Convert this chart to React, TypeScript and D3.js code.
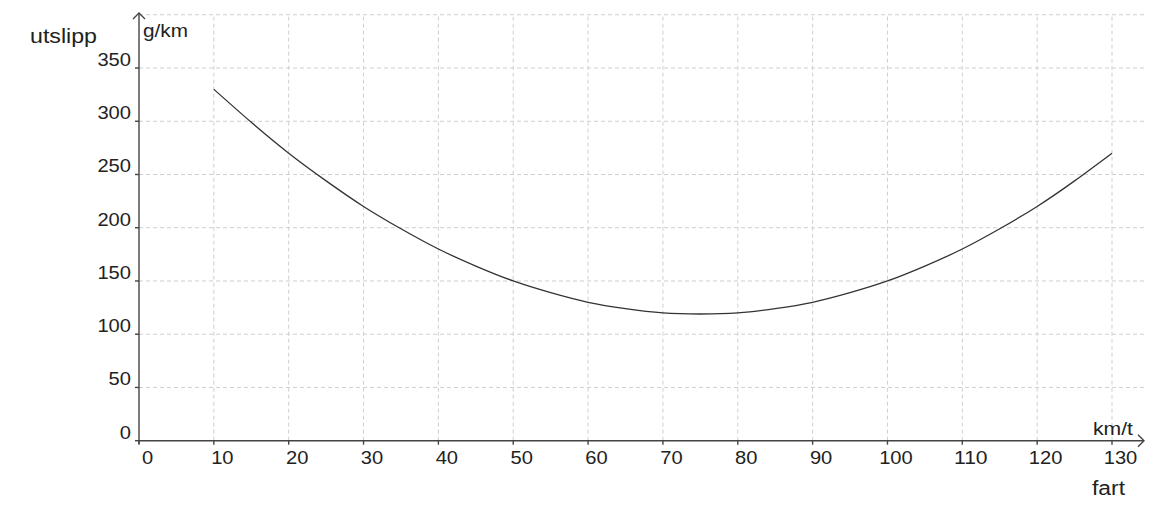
import React from "react";
import * as d3 from "d3";

// speed (km/t) and emission (g/km)
const speeds = [10, 15, 20, 25, 30, 35, 40, 45, 50, 55, 60, 65, 70, 75, 80, 85, 90, 95, 100, 105, 110, 115, 120, 125, 130];
const emissions = [330, 299, 270, 244, 220, 199, 180, 164, 150, 139, 130, 124, 120, 119, 120, 124, 130, 139, 150, 164, 180, 199, 220, 244, 270];

const xTicks = [0, 10, 20, 30, 40, 50, 60, 70, 80, 90, 100, 110, 120, 130];
const yTicks = [0, 50, 100, 150, 200, 250, 300, 350];
const yGrid = [50, 100, 150, 200, 250, 300, 350, 400];

const W = 1156;
const H = 527;
const FONT = "'Liberation Sans', Arial, sans-serif";
const AXIS = "#444";
const GRID = "#cfcfcf";
const DIGIT_W = 11.2; // labels look horizontally stretched

const App: React.FC = () => {
  const x = d3.scaleLinear().domain([0, 130]).range([139, 1112]);
  const y = d3.scaleLinear().domain([0, 350]).range([440.7, 68]);

  const gridRight = 1145;
  const gridTop = y(400);

  const points = speeds.map((s, i) => ({ s, e: emissions[i] }));
  const line = d3
    .line<{ s: number; e: number }>()
    .x((d) => x(d.s))
    .y((d) => y(d.e))
    .curve(d3.curveNatural);

  const x0 = x(0);
  const y0 = y(0);

  return (
    <svg
      width={W}
      height={H}
      style={{ position: "absolute", left: 0, top: 0, background: "#fff" }}
      fontFamily={FONT}
    >
      {/* grid */}
      <g stroke={GRID} strokeWidth={1} strokeDasharray="4,3" fill="none">
        {yGrid.map((v) => (
          <line key={"h" + v} x1={x0} x2={gridRight} y1={y(v)} y2={y(v)} />
        ))}
        {xTicks
          .filter((v) => v > 0)
          .map((v) => (
            <line key={"v" + v} x1={x(v)} x2={x(v)} y1={y0} y2={gridTop} />
          ))}
      </g>

      {/* axes */}
      <g stroke={AXIS} strokeWidth={1.4} fill="none">
        <line x1={x0} x2={1144} y1={y0} y2={y0} />
        <line x1={x0} x2={x0} y1={y0 + 3} y2={13} />
        <path d={`M${1138},${y0 - 6} L1144,${y0} L${1138},${y0 + 6}`} />
        <path d={`M${x0 - 6},19 L${x0},13 L${x0 + 6},19`} />
        {xTicks.map((v) => (
          <line key={"xt" + v} x1={x(v)} x2={x(v)} y1={y0} y2={y0 + 4} />
        ))}
        {yTicks.map((v) => (
          <line key={"yt" + v} x1={x0 - 4} x2={x0} y1={y(v)} y2={y(v)} />
        ))}
      </g>

      {/* tick labels */}
      <g fill="#222" fontSize={19}>
        {xTicks.map((v) => (
          <text
            key={"xl" + v}
            x={x(v) + 8.5}
            y={464}
            textAnchor="middle"
            textLength={String(v).length * DIGIT_W}
            lengthAdjust="spacingAndGlyphs"
          >
            {v}
          </text>
        ))}
        {yTicks.map((v) => (
          <text
            key={"yl" + v}
            x={131}
            y={y(v) - 2}
            textAnchor="end"
            textLength={String(v).length * DIGIT_W}
            lengthAdjust="spacingAndGlyphs"
          >
            {v}
          </text>
        ))}
      </g>

      {/* axis titles */}
      <g fill="#222">
        <text x={30} y={43} fontSize={20} textLength={67} lengthAdjust="spacingAndGlyphs">
          utslipp
        </text>
        <text x={143} y={37} fontSize={19} textLength={45} lengthAdjust="spacingAndGlyphs">
          g/km
        </text>
        <text x={1093} y={435} fontSize={19} textLength={40} lengthAdjust="spacingAndGlyphs">
          km/t
        </text>
        <text x={1092} y={495} fontSize={20} textLength={33} lengthAdjust="spacingAndGlyphs">
          fart
        </text>
      </g>

      {/* curve */}
      <path d={line(points) ?? ""} fill="none" stroke="#333" strokeWidth={1.3} />
    </svg>
  );
};

export default App;
